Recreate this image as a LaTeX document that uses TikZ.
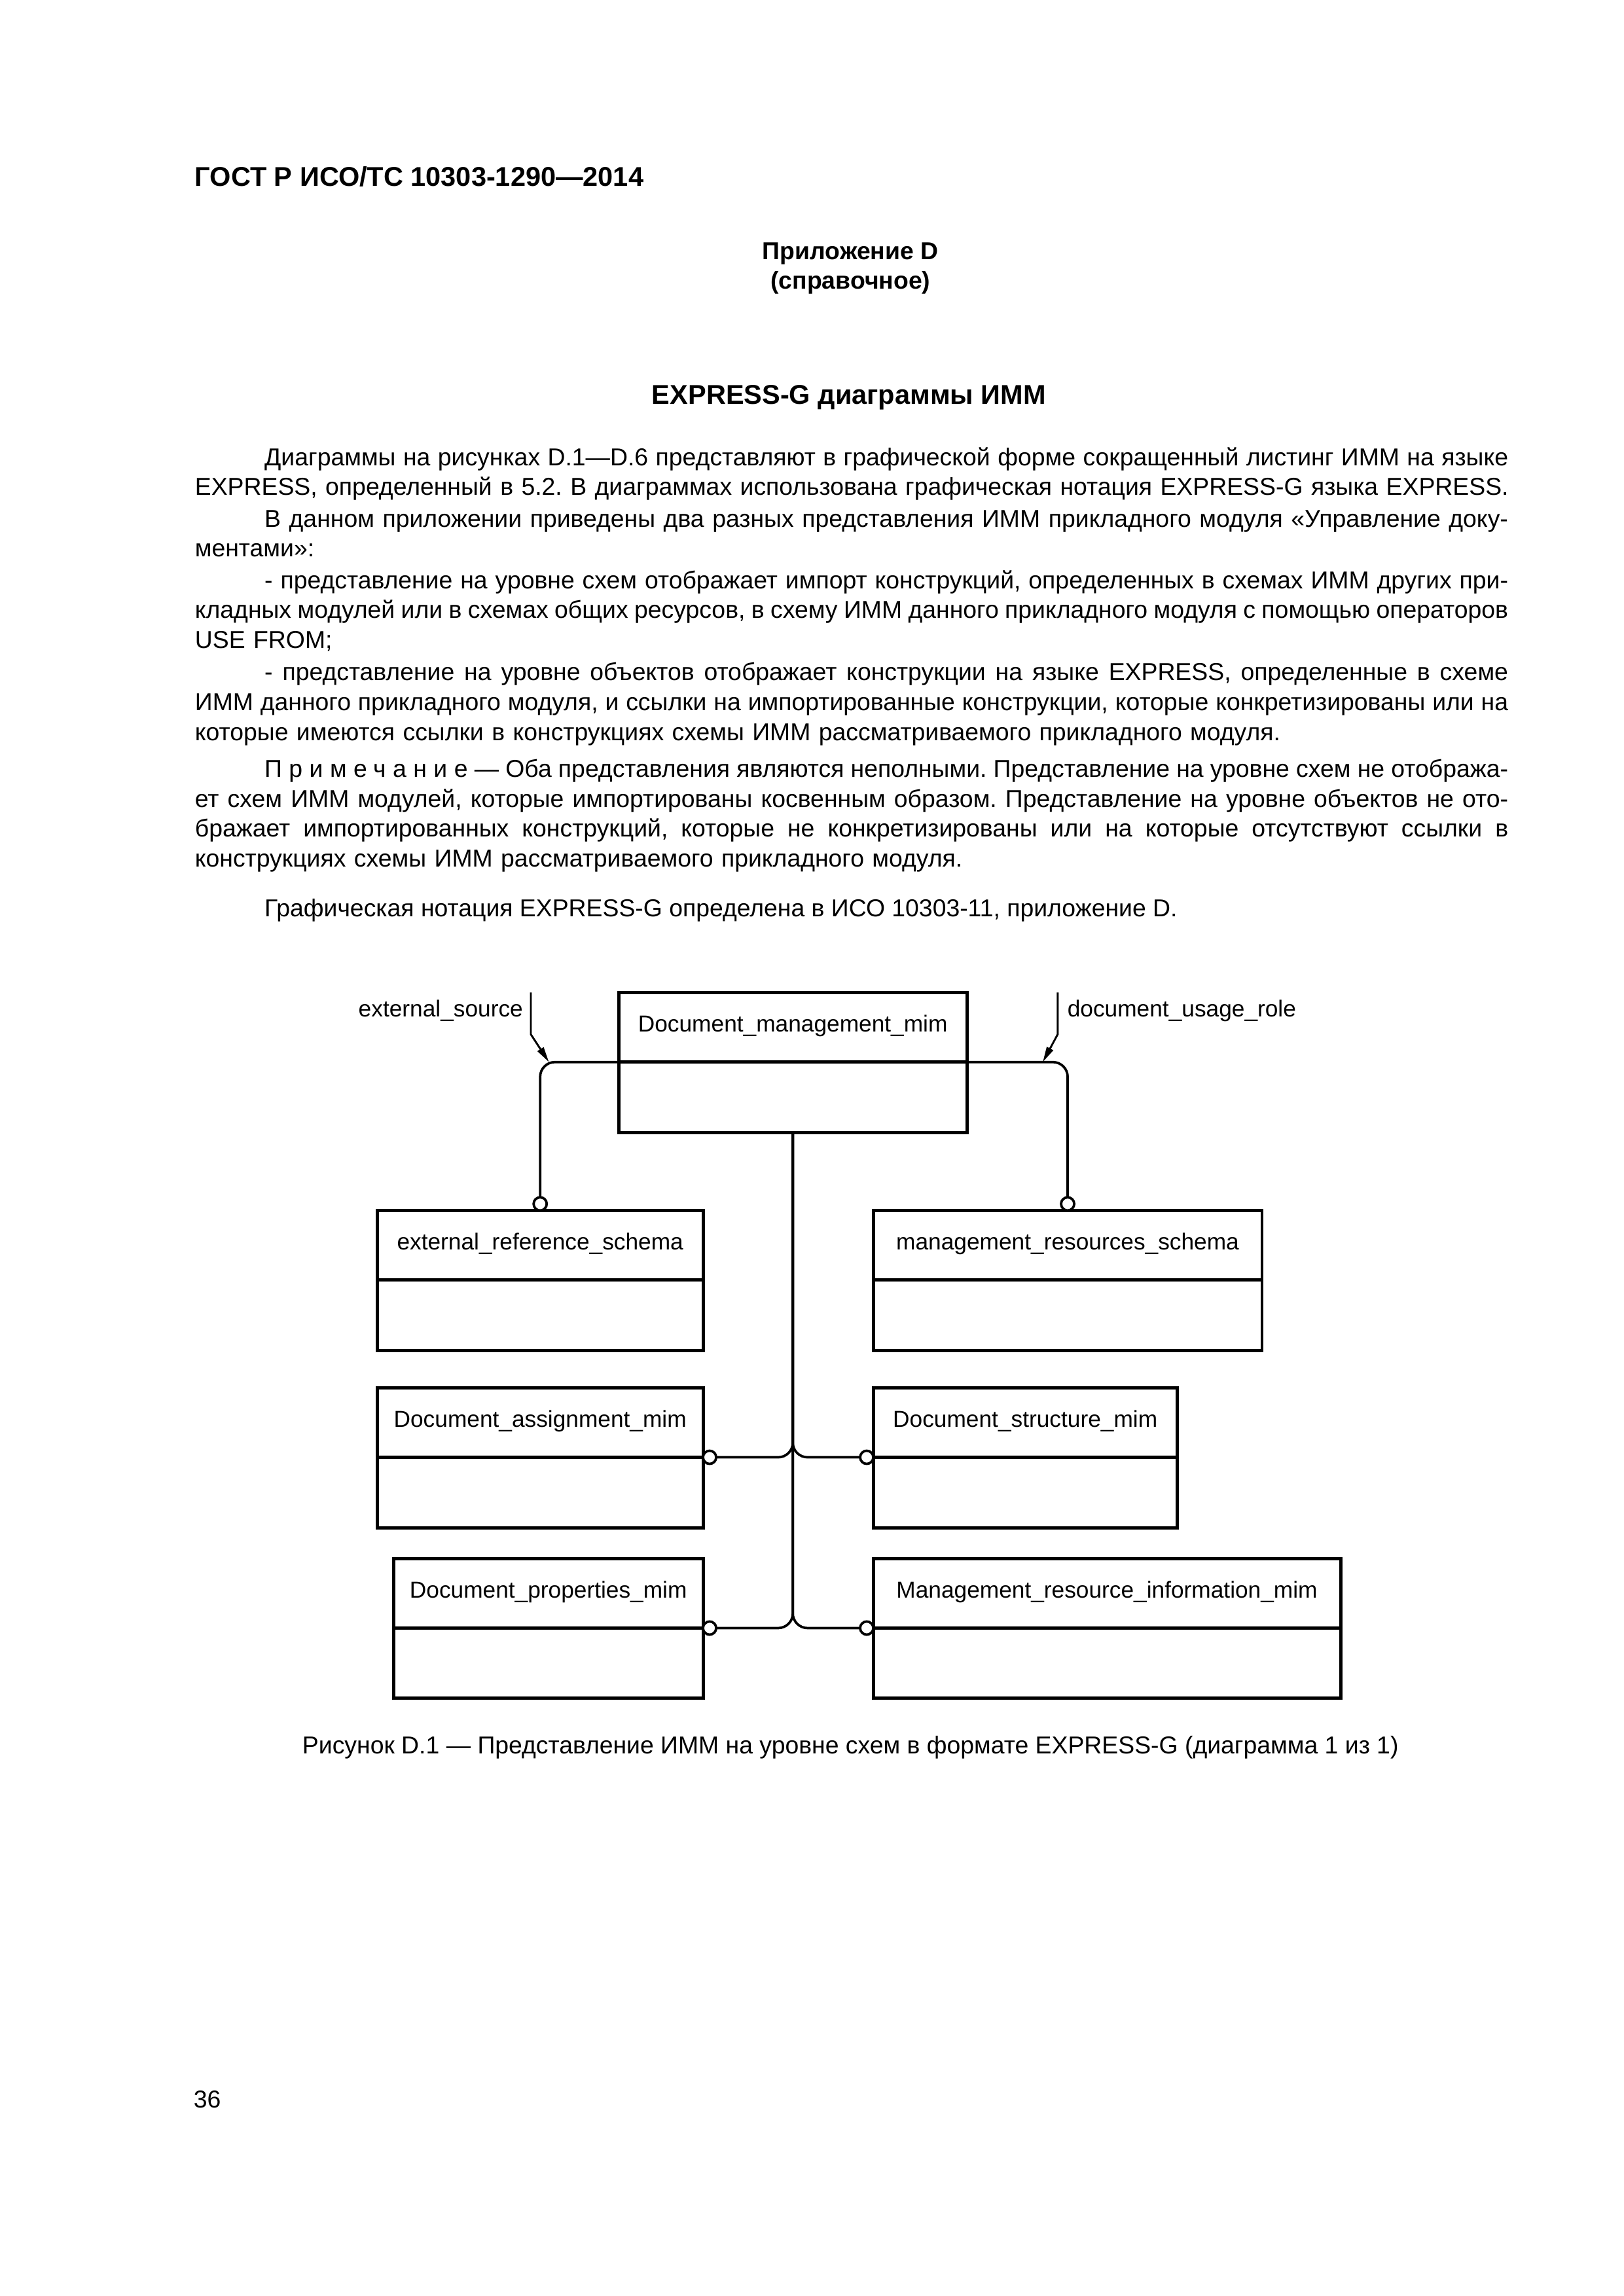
\documentclass[tikz,border=0pt]{standalone}
\usepackage{fontspec}
\setmainfont{Liberation Sans}
\usetikzlibrary{arrows.meta,positioning}

\newcommand{\fullline}[1]{\hbox to\linewidth{\spaceskip=0.278em plus 0.3em minus 0.2em\relax #1}}
\newcommand{\spacedword}[1]{{\addfontfeature{LetterSpace=28}#1}}

\begin{document}
\frenchspacing
\begin{tikzpicture}[>=Stealth, every node/.style={font=\fontsize{9}{11}\selectfont, inner sep=0pt},
  para/.style={anchor=base west, text width=16.985cm},
  schemabox/.style={draw, line width=1.2pt, anchor=north west, outer sep=0pt, minimum height=1.81cm},
  boxlabel/.style={anchor=base, font=\fontsize{8.5}{10}\selectfont},
  ring/.style={draw, circle, line width=0.9pt, fill=white, minimum size=0.17cm, outer sep=0pt},
  link/.style={line width=0.9pt, rounded corners=0.19cm},
  arrowline/.style={line width=0.7pt, -{Stealth[length=0.2cm, width=0.09cm, inset=0pt]}}]
  \fill[white] (0,0) rectangle (21,29.7);
  \useasboundingbox (0,0) rectangle (21,29.7);

  % ---- Page header ----
  \node[anchor=base west, font=\fontsize{10}{12}\selectfont\bfseries] (gost) at (2.515,27.287) {ГОСТ Р ИСО/ТС 10303-1290—2014};
  \node[anchor=base, font=\fontsize{9}{11}\selectfont\bfseries] (annex) at (11.0,26.34) {Приложение D};
  \node[anchor=base, font=\fontsize{9}{11}\selectfont\bfseries] (annextype) at (11.0,25.96) {(справочное)};
  \node[anchor=base, font=\fontsize{10}{12}\selectfont\bfseries] (title) at (10.98,24.47) {EXPRESS-G диаграммы ИММ};

  % ---- Body text ----
  \node[para] (intro) at (2.515,23.678) {%
    \fullline{\kern0.9cm Диаграммы на рисунках D.1—D.6 представляют в графической форме сокращенный листинг ИММ на языке}
    \hbox{EXPRESS, определенный в 5.2. В диаграммах использована графическая нотация EXPRESS-G языка EXPRESS.}};
  \node[para] (views) at (2.515,22.883) {%
    \fullline{\kern0.9cm В данном приложении приведены два разных представления ИММ прикладного модуля «Управление доку-}
    \hbox{ментами»:}};
  \node[para] (schemaview) at (2.515,22.088) {%
    \fullline{\kern0.9cm - представление на уровне схем отображает импорт конструкций, определенных в схемах ИММ других при-}
    \fullline{кладных модулей или в схемах общих ресурсов, в схему ИММ данного прикладного модуля с помощью операторов}
    \hbox{USE FROM;}};
  \node[para] (entityview) at (2.515,20.895) {%
    \fullline{\kern0.9cm - представление на уровне объектов отображает конструкции на языке EXPRESS, определенные в схеме}
    \fullline{ИММ данного прикладного модуля, и ссылки на импортированные конструкции, которые конкретизированы или на}
    \hbox{которые имеются ссылки в конструкциях схемы ИММ рассматриваемого прикладного модуля.}};
  \node[para] (note) at (2.515,19.645) {%
    \fullline{\kern0.9cm \spacedword{Примечание} — Оба представления являются неполными. Представление на уровне схем не отобража-}
    \fullline{ет схем ИММ модулей, которые импортированы косвенным образом. Представление на уровне объектов не ото-}
    \fullline{бражает импортированных конструкций, которые не конкретизированы или на которые отсутствуют ссылки в}
    \hbox{конструкциях схемы ИММ рассматриваемого прикладного модуля.}};
  \node[anchor=base west] (notation) at (3.415,17.846) {Графическая нотация EXPRESS-G определена в ИСО 10303-11, приложение D.};

  % ---- Schema boxes (name/left/top/width/label) ----
  \foreach \n/\x/\y/\w/\t in {
      top/8.002/16.861/4.505/Document\_management\_mim,
      ext/4.880/14.042/4.213/external\_reference\_schema,
      mgmt/11.295/14.042/5.028/management\_resources\_schema,
      assign/4.880/11.749/4.213/Document\_assignment\_mim,
      struct/11.295/11.749/3.930/Document\_structure\_mim,
      props/5.092/9.54/4.001/Document\_properties\_mim,
      mri/11.295/9.54/6.044/Management\_resource\_information\_mim} {
    \node[schemabox, minimum width=\w cm] (\n) at (\x,\y) {};
    \draw[line width=1.2pt] ([yshift=-0.9cm]\n.north west) -- ([yshift=-0.9cm]\n.north east);
    \node[boxlabel] (\n lbl) at ([yshift=-0.51cm]\n.north) {\t};
  }

  % ---- Reference rings ----
  \node[ring, anchor=south] (extring) at (ext.north) {};
  \node[ring, anchor=south] (mgmtring) at (mgmt.north) {};
  \node[ring, anchor=west] (assignring) at ([yshift=-0.9cm]assign.north east) {};
  \node[ring, anchor=east] (structring) at ([yshift=-0.9cm]struct.north west) {};
  \node[ring, anchor=west] (propsring) at ([yshift=-0.9cm]props.north east) {};
  \node[ring, anchor=east] (mriring) at ([yshift=-0.9cm]mri.north west) {};

  % ---- Links ----
  \coordinate (topdiv) at ([yshift=-0.9cm]top.north);
  \draw[link] (extring.north) |- (topdiv) -| (mgmtring.north);
  \foreach \r in {assignring.east, structring.west, propsring.east, mriring.west}
    \draw[link] (\r) -| (top.south);

  % ---- Renamed items ----
  \node[anchor=base east, font=\fontsize{8.5}{10}\selectfont] (srclbl) at (6.77,16.55) {external\_source};
  \node[anchor=base west, font=\fontsize{8.5}{10}\selectfont] (rolelbl) at (13.80,16.55) {document\_usage\_role};
  \coordinate (srctop) at (6.866,16.861);
  \coordinate (srcbend) at (6.866,16.32);
  \coordinate (srctip) at (7.10,15.961);
  \coordinate (roletop) at (13.68,16.861);
  \coordinate (rolebend) at (13.68,16.32);
  \coordinate (roletip) at (13.487,15.961);
  \draw[arrowline] (srctop) -- (srcbend) -- (srctip);
  \draw[arrowline] (roletop) -- (rolebend) -- (roletip);

  % ---- Caption and page number ----
  \node[anchor=base] (caption) at (11.0,7.015) {Рисунок D.1 — Представление ИММ на уровне схем в формате EXPRESS-G (диаграмма 1 из 1)};
  \node[anchor=base west] (pagenum) at (2.498,2.435) {36};
\end{tikzpicture}
\end{document}
